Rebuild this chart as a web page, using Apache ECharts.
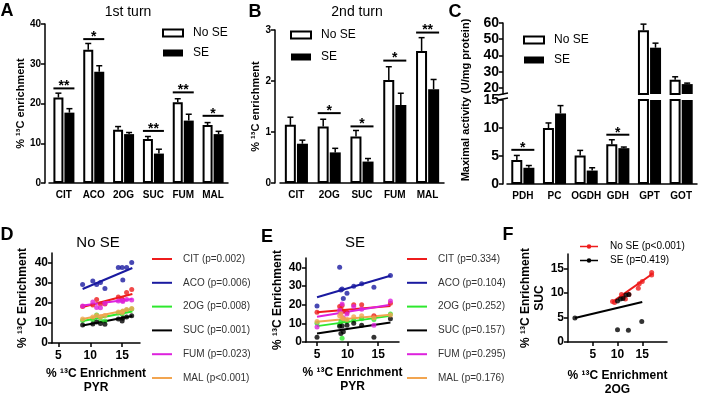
<!DOCTYPE html>
<html><head><meta charset="utf-8">
<script src="https://cdn.jsdelivr.net/npm/echarts@6/dist/echarts.min.js"></script>
<style>html,body{margin:0;padding:0;background:#fff}#c{width:701px;height:400px}</style>
</head><body><div id="c"></div>
<script>
const FONT = 'Liberation Sans, Arial, sans-serif';

// ---------- Panel A: 1st turn ----------
const catsA = ['CIT', 'ACO', '2OG', 'SUC', 'FUM', 'MAL'];
const aNoSE = [21.5, 33.5, 13.4, 11.1, 20.3, 14.6];
const aNoSEerr = [1.1, 1.6, 0.8, 0.6, 0.9, 0.6];
const aSE = [17.7, 28.0, 12.3, 7.4, 15.7, 12.3];
const aSEerr = [1.0, 1.5, 0.4, 1.1, 1.6, 0.7];
const aSigCat = [0, 1, 3, 4, 5];
const aSigY = [23.8, 36.2, 13.1, 22.8, 16.9];
const aSigMark = ['**', '*', '**', '**', '*'];
const aTicks = [0, 10, 20, 30, 40];

// ---------- Panel B: 2nd turn ----------
const catsB = ['CIT', '2OG', 'SUC', 'FUM', 'MAL'];
const bNoSE = [1.14, 1.11, 0.91, 2.02, 2.59];
const bNoSEerr = [0.15, 0.14, 0.12, 0.26, 0.26];
const bSE = [0.77, 0.60, 0.42, 1.53, 1.84];
const bSEerr = [0.07, 0.08, 0.06, 0.23, 0.19];
const bSigCat = [1, 2, 3, 4];
const bSigY = [1.37, 1.11, 2.40, 2.95];
const bSigMark = ['*', '*', '*', '**'];
const bTicks = [0, 1, 2, 3];

// ---------- Panel C: maximal activity ----------
const catsC = ['PDH', 'PC', 'OGDH', 'GDH', 'GPT', 'GOT'];
const cNoSE = [4.3, 10.0, 5.1, 7.1, 55.5, 25.1];
const cNoSEerr = [0.8, 0.9, 0.9, 0.8, 3.8, 1.8];
const cSE = [2.9, 12.6, 2.4, 6.4, 44.8, 22.4];
const cSEerr = [0.4, 1.4, 0.5, 0.2, 2.8, 0.6];
const cSigCat = [0, 3];
const cSigY = [6.1, 8.8];
const cSigMark = ['*', '*'];
const cTicksLow = [0, 5, 10, 15];
const cTicksHigh = [20, 30, 40, 50, 60];

// ---------- Panel D: No SE correlations vs PYR ----------
const dPYR = [8.8, 10.4, 11.0, 11.6, 12.3, 14.4, 15.0, 15.1, 15.7, 16.5];
const dCIT = [18.2, 19.0, 21.8, 19.5, 19.5, 23.0, 22.0, 21.4, 25.3, 26.7];
const dACO = [29.3, 31.0, 29.3, 30.3, 27.3, 37.7, 37.7, 31.5, 37.7, 40.2];
const d2OG = [11.2, 11.6, 14.0, 11.3, 11.0, 15.0, 14.5, 15.8, 16.5, 17.0];
const dSUC = [9.0, 9.5, 10.5, 9.8, 9.4, 12.0, 11.0, 12.4, 13.0, 13.6];
const dFUM = [18.5, 20.5, 17.8, 17.6, 19.8, 21.0, 21.2, 20.8, 21.8, 21.5];
const dMAL = [12.0, 13.0, 13.8, 13.0, 13.8, 15.5, 15.2, 16.0, 16.8, 17.2];
const dFitX = [8.8, 16.6];
const dFitCIT = [18.0, 24.5];
const dFitACO = [27.0, 37.5];
const dFit2OG = [11.0, 15.8];
const dFitSUC = [8.8, 13.5];
const dFitFUM = [18.8, 22.0];
const dFitMAL = [12.0, 17.0];
const dNames = ['CIT (p=0.002)', 'ACO (p=0.006)', '2OG (p=0.008)', 'SUC (p=0.001)', 'FUM (p=0.023)', 'MAL (p<0.001)'];

// ---------- Panel E: SE correlations vs PYR ----------
const ePYR = [5.0, 8.7, 8.9, 9.1, 9.3, 9.9, 11.0, 12.3, 14.3, 17.0];
const eCIT = [16.0, 19.0, 17.5, 19.5, 16.5, 15.8, 20.0, 20.0, 14.0, 20.8];
const eACO = [19.3, 40.0, 27.8, 28.4, 23.3, 26.1, 29.8, 31.2, 29.3, 35.6];
const e2OG = [10.0, 9.2, 11.0, 2.0, 12.0, 11.0, 11.5, 12.5, 12.0, 15.0];
const eSUC = [2.5, 8.5, 4.5, 8.6, 5.5, 9.0, 10.0, 9.0, 2.5, 12.4];
const eFUM = [8.0, 17.0, 15.5, 20.3, 13.0, 15.0, 19.0, 17.5, 9.0, 22.0];
const eMAL = [11.0, 14.0, 15.2, 13.0, 12.5, 12.0, 13.5, 14.0, 13.0, 14.5];
const eFitX = [5.0, 17.0];
const eFitCIT = [16.0, 19.3];
const eFitACO = [24.0, 35.5];
const eFit2OG = [8.5, 14.0];
const eFitSUC = [4.5, 10.5];
const eFitFUM = [13.5, 20.0];
const eFitMAL = [10.8, 14.6];
const eNames = ['CIT (p=0.334)', 'ACO (p=0.104)', '2OG (p=0.252)', 'SUC (p=0.157)', 'FUM (p=0.295)', 'MAL (p=0.176)'];

// ---------- Panel F: SUC vs 2OG ----------
const f2OGno = [9.0, 9.4, 10.8, 11.2, 11.6, 12.3, 14.2, 14.4, 15.0, 16.9, 16.9];
const fSUCno = [8.3, 8.1, 9.7, 9.2, 8.8, 9.7, 11.0, 11.9, 12.4, 14.2, 13.7];
const f2OGse = [1.4, 10.0, 10.6, 11.1, 11.7, 12.3, 10.0, 12.2, 14.9];
const fSUCse = [4.9, 8.4, 8.8, 8.9, 9.6, 9.7, 2.5, 2.4, 4.2];
const fFitNoX = [9.0, 17.0], fFitNoY = [8.2, 13.9];
const fFitSeX = [1.4, 15.0], fFitSeY = [4.9, 8.2];
const fNames = ['No SE (p<0.001)', 'SE (p=0.419)'];

const metColors = ['#ee1c1c', '#1a1aa0', '#2ee82e', '#000000', '#dd22dd', '#f2a550'];

// ---------- helpers ----------
const zip = (xs, ys) => xs.map((x, i) => [x, ys[i]]);
const bold = (size) => ({ color: '#000', fontSize: size, fontWeight: 'bold', fontFamily: FONT });

function catX(gi, cats, show) {
  return {
    type: 'category', gridIndex: gi, data: cats, show: show !== false,
    axisTick: { show: false },
    axisLine: { lineStyle: { color: '#000', width: 1.5 } },
    axisLabel: Object.assign(bold(10), { margin: 7, interval: 0 })
  };
}
function barY(gi, min, max, ticks, fs, off, name, gap) {
  return {
    type: 'value', gridIndex: gi, min: min, max: max, offset: off,
    splitLine: { show: false },
    axisLine: { show: true, lineStyle: { color: '#000', width: 1.5 } },
    axisTick: { show: true, length: 4, lineStyle: { color: '#000', width: 1.5 }, customValues: ticks },
    axisLabel: Object.assign(bold(fs), { margin: 4, customValues: ticks }),
    name: name || '', nameLocation: 'middle', nameGap: gap || 0, nameTextStyle: bold(11)
  };
}
function valAxis(gi, min, max, ticks, name, gap, isX) {
  return {
    type: 'value', gridIndex: gi, min: min, max: max,
    splitLine: { show: false },
    axisLine: { show: true, onZero: false, lineStyle: { color: '#000', width: 1.5 } },
    axisTick: { show: true, length: 4, lineStyle: { color: '#000', width: 1.5 }, customValues: ticks },
    axisLabel: Object.assign(bold(12), { margin: isX ? 7 : 4, customValues: ticks }),
    name: name, nameLocation: 'middle', nameGap: gap,
    nameTextStyle: Object.assign(bold(12), { lineHeight: 14 })
  };
}
function barPair(xi, yi, noSE, se, w) {
  return [
    { name: 'No SE', type: 'bar', xAxisIndex: xi, yAxisIndex: yi, data: noSE, barWidth: w, barGap: '10%',
      itemStyle: { color: '#fff', borderColor: '#000', borderWidth: 2 }, clip: true, animation: false },
    { name: 'SE', type: 'bar', xAxisIndex: xi, yAxisIndex: yi, data: se, barWidth: w, barGap: '10%',
      itemStyle: { color: '#000', borderColor: '#000', borderWidth: 0 }, clip: true, animation: false }
  ];
}
function errSeries(xi, yi, means, errs, side, halfSep, keep) {
  const data = [];
  means.forEach((v, i) => { if (keep.includes(i)) data.push([i, v, errs[i]]); });
  return {
    type: 'custom', xAxisIndex: xi, yAxisIndex: yi, z: 5, silent: true, animation: false,
    data: data, encode: { x: 0, y: 1 },
    renderItem: (params, api) => {
      const i = api.value(0), v = api.value(1), e = api.value(2);
      const p0 = api.coord([i, v]), p1 = api.coord([i, v + e]);
      const x = p0[0] + side * halfSep;
      return { type: 'group', children: [
        { type: 'line', shape: { x1: x, y1: p0[1], x2: x, y2: p1[1] }, style: { stroke: '#000', lineWidth: 1.5 } },
        { type: 'line', shape: { x1: x - 3, y1: p1[1], x2: x + 3, y2: p1[1] }, style: { stroke: '#000', lineWidth: 1.5 } }
      ] };
    }
  };
}
function sigSeries(xi, yi, cats, ys, marks, halfSpan) {
  return {
    type: 'custom', xAxisIndex: xi, yAxisIndex: yi, z: 6, silent: true, animation: false,
    data: zip(cats, ys), encode: { x: 0, y: 1 },
    renderItem: (params, api) => {
      const p = api.coord([api.value(0), api.value(1)]);
      return { type: 'group', children: [
        { type: 'line', shape: { x1: p[0] - halfSpan, y1: p[1], x2: p[0] + halfSpan, y2: p[1] }, style: { stroke: '#000', lineWidth: 2 } },
        { type: 'text', x: p[0], y: p[1] - 2, style: { text: marks[params.dataIndex], fill: '#000', fontSize: 14, fontWeight: 'bold', fontFamily: FONT, align: 'center', verticalAlign: 'middle' } }
      ] };
    }
  };
}
function fitLine(name, xi, yi, xs, ys, color) {
  return { name: name, type: 'line', xAxisIndex: xi, yAxisIndex: yi, data: zip(xs, ys),
    symbol: 'none', lineStyle: { color: color, width: 2 }, itemStyle: { color: color }, animation: false, z: 3 };
}
function pts(name, xi, yi, xs, ys, color) {
  return { name: name, type: 'scatter', xAxisIndex: xi, yAxisIndex: yi, data: zip(xs, ys),
    symbolSize: 5, itemStyle: { color: color }, animation: false, z: 4 };
}

const dVals = [dCIT, dACO, d2OG, dSUC, dFUM, dMAL];
const dFits = [dFitCIT, dFitACO, dFit2OG, dFitSUC, dFitFUM, dFitMAL];
const eVals = [eCIT, eACO, e2OG, eSUC, eFUM, eMAL];
const eFits = [eFitCIT, eFitACO, eFit2OG, eFitSUC, eFitFUM, eFitMAL];

const series = [];
// A
series.push(...barPair(0, 0, aNoSE, aSE, 10));
series.push(errSeries(0, 0, aNoSE, aNoSEerr, -1, 5.5, [0, 1, 2, 3, 4, 5]));
series.push(errSeries(0, 0, aSE, aSEerr, 1, 5.5, [0, 1, 2, 3, 4, 5]));
series.push(sigSeries(0, 0, aSigCat, aSigY, aSigMark, 10.5));
// B
series.push(...barPair(1, 1, bNoSE, bSE, 11));
series.push(errSeries(1, 1, bNoSE, bNoSEerr, -1, 6, [0, 1, 2, 3, 4]));
series.push(errSeries(1, 1, bSE, bSEerr, 1, 6, [0, 1, 2, 3, 4]));
series.push(sigSeries(1, 1, bSigCat, bSigY, bSigMark, 11.5));
// C upper (broken axis part, only GPT / GOT reach it)
series.push(...barPair(2, 2, cNoSE.map((v, i) => i >= 4 ? v : '-'), cSE.map((v, i) => i >= 4 ? v : '-'), 11));
series.push(errSeries(2, 2, cNoSE, cNoSEerr, -1, 6, [4, 5]));
series.push(errSeries(2, 2, cSE, cSEerr, 1, 6, [4, 5]));
// C lower
series.push(...barPair(3, 3, cNoSE, cSE, 11));
series.push(errSeries(3, 3, cNoSE, cNoSEerr, -1, 6, [0, 1, 2, 3]));
series.push(errSeries(3, 3, cSE, cSEerr, 1, 6, [0, 1, 2, 3]));
series.push(sigSeries(3, 3, cSigCat, cSigY, cSigMark, 11.5));
// D
dNames.forEach((n, k) => series.push(fitLine(n, 4, 4, dFitX, dFits[k], metColors[k])));
dNames.forEach((n, k) => series.push(pts(n, 4, 4, dPYR, dVals[k], metColors[k])));
// E
eNames.forEach((n, k) => series.push(fitLine(n, 5, 5, eFitX, eFits[k], metColors[k])));
eNames.forEach((n, k) => series.push(pts(n, 5, 5, ePYR, eVals[k], metColors[k])));
// F
series.push(fitLine(fNames[0], 6, 6, fFitNoX, fFitNoY, '#ee1c1c'));
series.push(fitLine(fNames[1], 6, 6, fFitSeX, fFitSeY, '#000000'));
series.push(pts(fNames[0], 6, 6, f2OGno, fSUCno, '#ee1c1c'));
series.push(pts(fNames[1], 6, 6, f2OGse, fSUCse, '#000000'));

const barLegend = (left, top, gap) => ({
  data: ['No SE', 'SE'], left: left, top: top, orient: 'vertical', icon: 'rect', padding: 0,
  itemWidth: 20, itemHeight: 7, itemGap: gap, selectedMode: false,
  textStyle: { color: '#000', fontSize: 12, fontFamily: FONT, lineHeight: 14, padding: [0, 0, 0, 5] }
});
const lineLegend = (names, left) => ({
  data: names, left: left, top: 252, orient: 'vertical', icon: 'rect', padding: 0,
  itemWidth: 20, itemHeight: 2, itemGap: 9.8, selectedMode: false,
  textStyle: { color: '#333', fontSize: 10, fontFamily: FONT, lineHeight: 14, padding: [0, 0, 0, 6] }
});

const txt = (t, x, y, size, weight, extra) => Object.assign({
  type: 'text', x: x, y: y, silent: true,
  style: { text: t, fill: '#000', fontSize: size, fontWeight: weight, fontFamily: FONT, align: 'center', verticalAlign: 'middle' }
}, extra || {});

const option = {
  animation: false,
  backgroundColor: '#fff',
  grid: [
    { left: 49, top: 24, width: 179, height: 159 },
    { left: 280, top: 30, width: 164, height: 153 },
    { left: 507, top: 23, width: 190, height: 71 },
    { left: 507, top: 100, width: 190, height: 84 },
    { left: 52, top: 253, width: 88, height: 90 },
    { left: 306, top: 258, width: 93, height: 84 },
    { left: 568, top: 254, width: 99, height: 88 }
  ],
  xAxis: [
    catX(0, catsA), catX(1, catsB), catX(2, catsC, false), catX(3, catsC),
    valAxis(4, 4, 17.8, [5, 10, 15], '% ¹³C Enrichment\nPYR', 24, true),
    valAxis(5, 3.2, 18.4, [5, 10, 15], '% ¹³C Enrichment\nPYR', 24, true),
    valAxis(6, 0, 20, [5, 10, 15], '% ¹³C Enrichment\n2OG', 27, true)
  ],
  yAxis: [
    barY(0, 0, 40, aTicks, 10, 4, '% ¹³C enrichment', 16),
    barY(1, 0, 3, bTicks, 10, 5, '% ¹³C enrichment', 8),
    barY(2, 16.3, 60, cTicksHigh, 14, 4),
    barY(3, 0, 15, cTicksLow, 14, 4),
    valAxis(4, 0, 45, [0, 10, 20, 30, 40], '% ¹³C Enrichment', 22),
    valAxis(5, 0, 45, [0, 10, 20, 30, 40], '% ¹³C Enrichment', 20),
    valAxis(6, 0, 18, [0, 5, 10, 15], '% ¹³C Enrichment\nSUC', 21)
  ],
  legend: [
    barLegend(162, 26, 6),
    barLegend(290, 28, 8),
    barLegend(523, 33, 6),
    lineLegend(dNames, 152),
    lineLegend(eNames, 407),
    {
      data: fNames, left: 580, top: 240, orient: 'vertical', padding: 0,
      icon: 'path://M0,1.7H20V3.3H0Z M12.5,2.5A2.5,2.5 0 1 1 7.5,2.5A2.5,2.5 0 1 1 12.5,2.5Z',
      itemWidth: 18, itemHeight: 5, itemGap: 1, selectedMode: false,
      textStyle: { color: '#000', fontSize: 10, fontFamily: FONT, lineHeight: 13, padding: [0, 0, 0, 7] }
    }
  ],
  graphic: [
    txt('A', 7, 11, 18, 'bold'), txt('B', 255, 12, 18, 'bold'), txt('C', 455, 12, 18, 'bold'),
    txt('D', 7, 235, 18, 'bold'), txt('E', 267, 237, 18, 'bold'), txt('F', 508, 235, 18, 'bold'),
    txt('1st turn', 128, 12, 14, 'normal'), txt('2nd turn', 357, 12, 14, 'normal'),
    txt('No SE', 98, 243, 15, 'normal'), txt('SE', 355, 243, 15, 'normal'),
    txt('Maximal activity (U/mg protein)', 466, 100, 11, 'bold', { rotation: Math.PI / 2 }),
    { type: 'line', silent: true, shape: { x1: 498, y1: 95, x2: 508, y2: 93 }, style: { stroke: '#000', lineWidth: 1.5 } },
    { type: 'line', silent: true, shape: { x1: 498, y1: 100, x2: 508, y2: 98 }, style: { stroke: '#000', lineWidth: 1.5 } }
  ],
  series: series
};

const chart = echarts.init(document.getElementById('c'), null, { renderer: 'canvas' });
chart.setOption(option);
</script></body></html>
